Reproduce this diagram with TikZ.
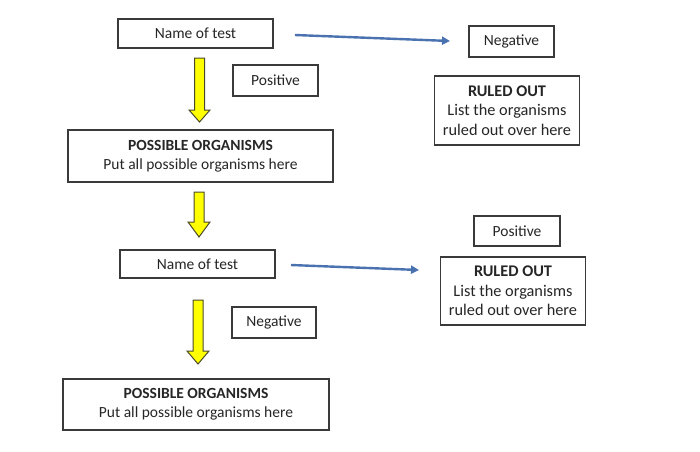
\documentclass[tikz,border=0pt]{standalone}
\usepackage{fontspec}
\setmainfont{Carlito}
\usetikzlibrary{arrows.meta,calc}
\definecolor{boxline}{HTML}{3A3A3A}
\definecolor{bluearr}{HTML}{4A72B0}
\definecolor{yel}{HTML}{FFFF00}
\definecolor{yelline}{HTML}{4A4A2A}
\tikzset{
  box/.style={draw=boxline, line width=1.1pt, fill=white, inner sep=0pt, align=center,
    font=\fontsize{15.5}{19}\selectfont, text=black!85},
  robox/.style={box, font=\fontsize{16.3}{19.5}\selectfont},
  bluearrow/.style={draw=bluearr, line width=2.4pt, -{Triangle[length=8pt,width=8pt]}},
  yarrow/.style={fill=yel, draw=yelline, line width=1pt, line join=miter},
}
\begin{document}
\begin{tikzpicture}[x=1pt,y=-1pt]
\useasboundingbox (0,0) rectangle (700,451);
\fill[white] (0,0) rectangle (700,451);

\node[box, minimum width=155pt, minimum height=29pt] (t1) at (195.5,33.5) {Name of test};
\node[box, minimum width=85pt, minimum height=31pt] (neg1) at (511.5,41.5) {Negative};
\node[box, minimum width=85pt, minimum height=31pt] (pos1) at (275.5,80.5) {Positive};
\node[robox, minimum width=145pt, minimum height=69pt] (ro1) at (507,110.5) {\textbf{RULED OUT}\\List the organisms\\ruled out over here};
\node[box, minimum width=265pt, minimum height=52pt] (po1) at (200.5,156) {\textbf{POSSIBLE ORGANISMS}\\Put all possible organisms here};
\node[box, minimum width=155pt, minimum height=28pt] (t2) at (197.5,264) {Name of test};
\node[box, minimum width=86pt, minimum height=30pt] (pos2) at (517,231) {Positive};
\node[robox, minimum width=145pt, minimum height=68pt] (ro2) at (513,291) {\textbf{RULED OUT}\\List the organisms\\ruled out over here};
\node[box, minimum width=84pt, minimum height=31pt] (neg2) at (274,322.5) {Negative};
\node[box, minimum width=266pt, minimum height=51pt] (po2) at (196,404.5) {\textbf{POSSIBLE ORGANISMS}\\Put all possible organisms here};

% blue arrows
\coordinate (a1s) at (295,35);
\coordinate (a1e) at (450,41);
\coordinate (a2s) at (291,265);
\coordinate (a2e) at (419,270);
\draw[bluearrow] (a1s) -- (a1e);
\draw[bluearrow] (a2s) -- (a2e);

% yellow block arrows
\draw[yarrow] (194.5,58) -- (204.5,58) -- (204.5,110) -- (210,110) -- (199.5,122) -- (189,110) -- (194.5,110) -- cycle;
\draw[yarrow] (194,192) -- (204,192) -- (204,222) -- (210,222) -- (199,237) -- (188,222) -- (194,222) -- cycle;
\draw[yarrow] (193,300) -- (203,300) -- (203,351) -- (209,351) -- (198,364) -- (187,351) -- (193,351) -- cycle;
\end{tikzpicture}
\end{document}
